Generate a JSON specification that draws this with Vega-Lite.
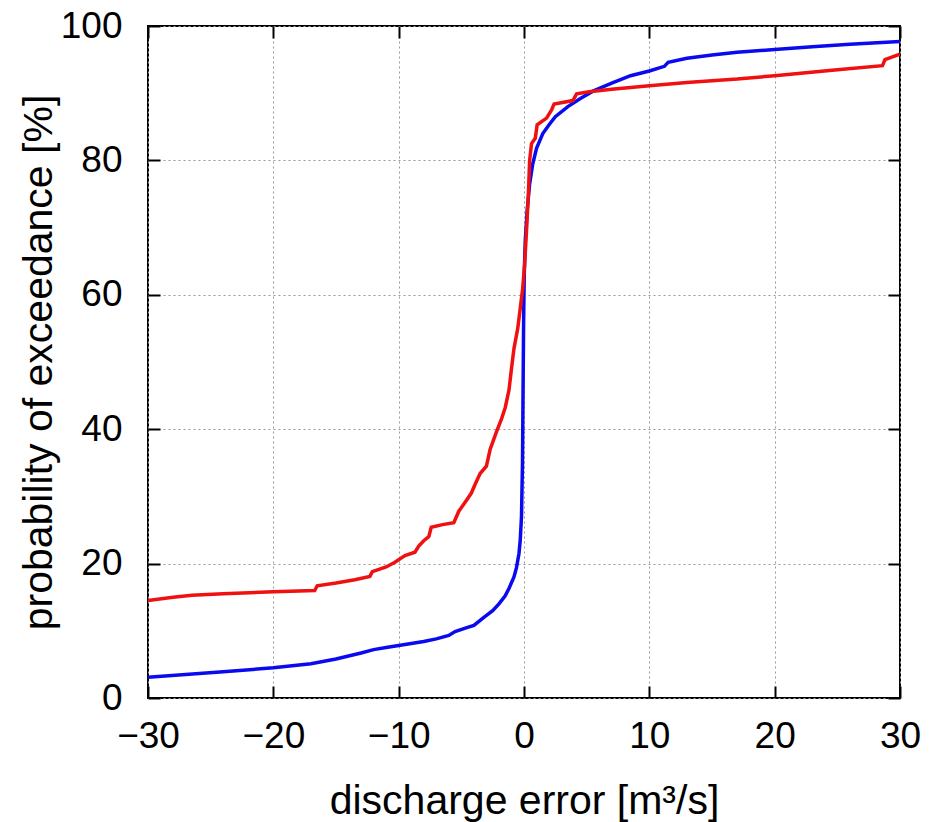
{
  "$schema": "https://vega.github.io/schema/vega-lite/v6.json",
  "width": 752,
  "height": 672,
  "autosize": {"type": "none"},
  "padding": {"left": 148, "top": 26, "right": 30, "bottom": 124},
  "background": "white",
  "config": {
    "view": {"stroke": "#000", "strokeWidth": 2},
    "font": "Liberation Sans",
    "axis": {
      "labelFont": "Liberation Sans",
      "titleFont": "Liberation Sans",
      "labelFontSize": 37,
      "titleFontSize": 41,
      "labelColor": "#000",
      "titleColor": "#000",
      "titleFontWeight": "normal",
      "tickColor": "#000",
      "tickWidth": 2,
      "tickSize": 12,
      "domain": false,
      "labelFlush": false,
      "gridColor": "#999",
      "gridDash": [2, 3],
      "gridWidth": 1,
      "gridOpacity": 1
    }
  },
  "data": {
    "values": [
      {"series": "A", "error": -30, "prob": 3.1},
      {"series": "A", "error": -27, "prob": 3.5},
      {"series": "A", "error": -24, "prob": 3.9},
      {"series": "A", "error": -20, "prob": 4.5},
      {"series": "A", "error": -17, "prob": 5.1},
      {"series": "A", "error": -15, "prob": 5.8},
      {"series": "A", "error": -13, "prob": 6.7},
      {"series": "A", "error": -12, "prob": 7.2},
      {"series": "A", "error": -11, "prob": 7.5},
      {"series": "A", "error": -10, "prob": 7.8},
      {"series": "A", "error": -8, "prob": 8.4},
      {"series": "A", "error": -7, "prob": 8.8},
      {"series": "A", "error": -6, "prob": 9.3},
      {"series": "A", "error": -5.5, "prob": 9.9},
      {"series": "A", "error": -4.5, "prob": 10.5},
      {"series": "A", "error": -4, "prob": 10.8},
      {"series": "A", "error": -3.2, "prob": 12.0},
      {"series": "A", "error": -2.5, "prob": 13.0},
      {"series": "A", "error": -2, "prob": 14.0},
      {"series": "A", "error": -1.5, "prob": 15.2},
      {"series": "A", "error": -1.2, "prob": 16.3},
      {"series": "A", "error": -0.8, "prob": 18.0},
      {"series": "A", "error": -0.6, "prob": 19.4},
      {"series": "A", "error": -0.4, "prob": 21.5},
      {"series": "A", "error": -0.3, "prob": 23.5},
      {"series": "A", "error": -0.2, "prob": 27},
      {"series": "A", "error": -0.12, "prob": 35},
      {"series": "A", "error": -0.07, "prob": 47},
      {"series": "A", "error": -0.03, "prob": 56},
      {"series": "A", "error": 0.02, "prob": 63},
      {"series": "A", "error": 0.1, "prob": 68},
      {"series": "A", "error": 0.25, "prob": 72.5},
      {"series": "A", "error": 0.45, "prob": 76.5},
      {"series": "A", "error": 0.7, "prob": 79.5},
      {"series": "A", "error": 1.0, "prob": 81.8},
      {"series": "A", "error": 1.5, "prob": 84},
      {"series": "A", "error": 2.0, "prob": 85.3},
      {"series": "A", "error": 2.5, "prob": 86.5},
      {"series": "A", "error": 3.5, "prob": 88},
      {"series": "A", "error": 4.5, "prob": 89.2},
      {"series": "A", "error": 5.5, "prob": 90.3},
      {"series": "A", "error": 7, "prob": 91.5},
      {"series": "A", "error": 8.5, "prob": 92.6},
      {"series": "A", "error": 10, "prob": 93.3},
      {"series": "A", "error": 11.2, "prob": 94.0},
      {"series": "A", "error": 11.5, "prob": 94.6},
      {"series": "A", "error": 13, "prob": 95.2},
      {"series": "A", "error": 15, "prob": 95.7},
      {"series": "A", "error": 17, "prob": 96.1},
      {"series": "A", "error": 20, "prob": 96.5},
      {"series": "A", "error": 23, "prob": 96.9},
      {"series": "A", "error": 26, "prob": 97.3},
      {"series": "A", "error": 30, "prob": 97.7},
      {"series": "B", "error": -30, "prob": 14.5},
      {"series": "B", "error": -28, "prob": 15.0},
      {"series": "B", "error": -26.5, "prob": 15.3},
      {"series": "B", "error": -24, "prob": 15.5},
      {"series": "B", "error": -20, "prob": 15.8},
      {"series": "B", "error": -16.7, "prob": 16.0},
      {"series": "B", "error": -16.5, "prob": 16.7},
      {"series": "B", "error": -15, "prob": 17.1},
      {"series": "B", "error": -13.5, "prob": 17.6},
      {"series": "B", "error": -12.3, "prob": 18.1},
      {"series": "B", "error": -12.1, "prob": 18.8},
      {"series": "B", "error": -11, "prob": 19.5},
      {"series": "B", "error": -10.3, "prob": 20.2},
      {"series": "B", "error": -9.5, "prob": 21.2},
      {"series": "B", "error": -8.7, "prob": 21.7},
      {"series": "B", "error": -8.4, "prob": 22.6},
      {"series": "B", "error": -8.0, "prob": 23.4},
      {"series": "B", "error": -7.6, "prob": 24.0},
      {"series": "B", "error": -7.4, "prob": 25.4},
      {"series": "B", "error": -6.5, "prob": 25.8},
      {"series": "B", "error": -5.6, "prob": 26.1},
      {"series": "B", "error": -5.2, "prob": 27.8},
      {"series": "B", "error": -4.6, "prob": 29.4},
      {"series": "B", "error": -4.2, "prob": 30.5},
      {"series": "B", "error": -3.9, "prob": 31.8},
      {"series": "B", "error": -3.5, "prob": 33.4},
      {"series": "B", "error": -3.0, "prob": 34.5},
      {"series": "B", "error": -2.7, "prob": 37.0},
      {"series": "B", "error": -2.2, "prob": 39.6},
      {"series": "B", "error": -1.8, "prob": 41.5},
      {"series": "B", "error": -1.5, "prob": 43.2},
      {"series": "B", "error": -1.2, "prob": 45.8},
      {"series": "B", "error": -1.0, "prob": 49},
      {"series": "B", "error": -0.8, "prob": 52},
      {"series": "B", "error": -0.5, "prob": 55},
      {"series": "B", "error": -0.3, "prob": 58},
      {"series": "B", "error": -0.1, "prob": 61},
      {"series": "B", "error": 0.05, "prob": 64.5},
      {"series": "B", "error": 0.2, "prob": 69.5},
      {"series": "B", "error": 0.35, "prob": 75},
      {"series": "B", "error": 0.45, "prob": 80},
      {"series": "B", "error": 0.6, "prob": 82.5},
      {"series": "B", "error": 0.9, "prob": 83.3},
      {"series": "B", "error": 1.05, "prob": 85.3},
      {"series": "B", "error": 1.8, "prob": 86.3},
      {"series": "B", "error": 2.2, "prob": 87.5},
      {"series": "B", "error": 2.4, "prob": 88.4},
      {"series": "B", "error": 3.9, "prob": 88.9},
      {"series": "B", "error": 4.2, "prob": 89.9},
      {"series": "B", "error": 5.2, "prob": 90.2},
      {"series": "B", "error": 7, "prob": 90.6},
      {"series": "B", "error": 10, "prob": 91.1},
      {"series": "B", "error": 13, "prob": 91.6},
      {"series": "B", "error": 17, "prob": 92.1},
      {"series": "B", "error": 20, "prob": 92.6},
      {"series": "B", "error": 25, "prob": 93.5},
      {"series": "B", "error": 28.6, "prob": 94.1},
      {"series": "B", "error": 28.8, "prob": 95.0},
      {"series": "B", "error": 30, "prob": 95.8}
    ]
  },
  "layer": [
    {
      "transform": [{"filter": "datum.series === 'A'"}],
      "mark": {"type": "line", "color": "#0a0af0", "strokeWidth": 3.5, "clip": true},
      "encoding": {
        "x": {
          "field": "error", "type": "quantitative",
          "scale": {"domain": [-30, 30], "nice": false, "zero": false},
          "axis": {"orient": "bottom", "values": [-30, -20, -10, 0, 10, 20, 30], "title": "discharge error [m³/s]", "grid": true, "ticks": false, "labelPadding": 20, "titlePadding": 27}
        },
        "y": {
          "field": "prob", "type": "quantitative",
          "scale": {"domain": [0, 100], "nice": false},
          "axis": {"orient": "left", "values": [0, 20, 40, 60, 80, 100], "title": "probability of exceedance [%]", "grid": true, "ticks": false, "labelPadding": 26, "titlePadding": 0}
        }
      }
    },
    {
      "transform": [{"filter": "datum.series === 'A'"}],
      "mark": {"type": "line", "color": "#0a0af0", "strokeWidth": 3.5, "strokeOpacity": 0, "clip": true},
      "encoding": {
        "x": {
          "field": "error", "type": "quantitative",
          "axis": {"orient": "bottom", "offset": -672, "zindex": 1, "values": [-30, -20, -10, 0, 10, 20, 30], "title": null, "labels": false, "grid": false}
        },
        "y": {
          "field": "prob", "type": "quantitative",
          "axis": {"orient": "left", "offset": -752, "zindex": 1, "values": [0, 20, 40, 60, 80, 100], "title": null, "labels": false, "grid": false}
        }
      }
    },
    {
      "transform": [{"filter": "datum.series === 'B'"}],
      "mark": {"type": "line", "color": "#f01010", "strokeWidth": 3.5, "clip": true},
      "encoding": {
        "x": {
          "field": "error", "type": "quantitative",
          "axis": {"orient": "top", "offset": -672, "zindex": 1, "values": [-30, -20, -10, 0, 10, 20, 30], "title": null, "labels": false, "grid": false}
        },
        "y": {
          "field": "prob", "type": "quantitative",
          "axis": {"orient": "right", "offset": -752, "zindex": 1, "values": [0, 20, 40, 60, 80, 100], "title": null, "labels": false, "grid": false}
        }
      }
    }
  ],
  "resolve": {"axis": {"x": "independent", "y": "independent"}}
}
